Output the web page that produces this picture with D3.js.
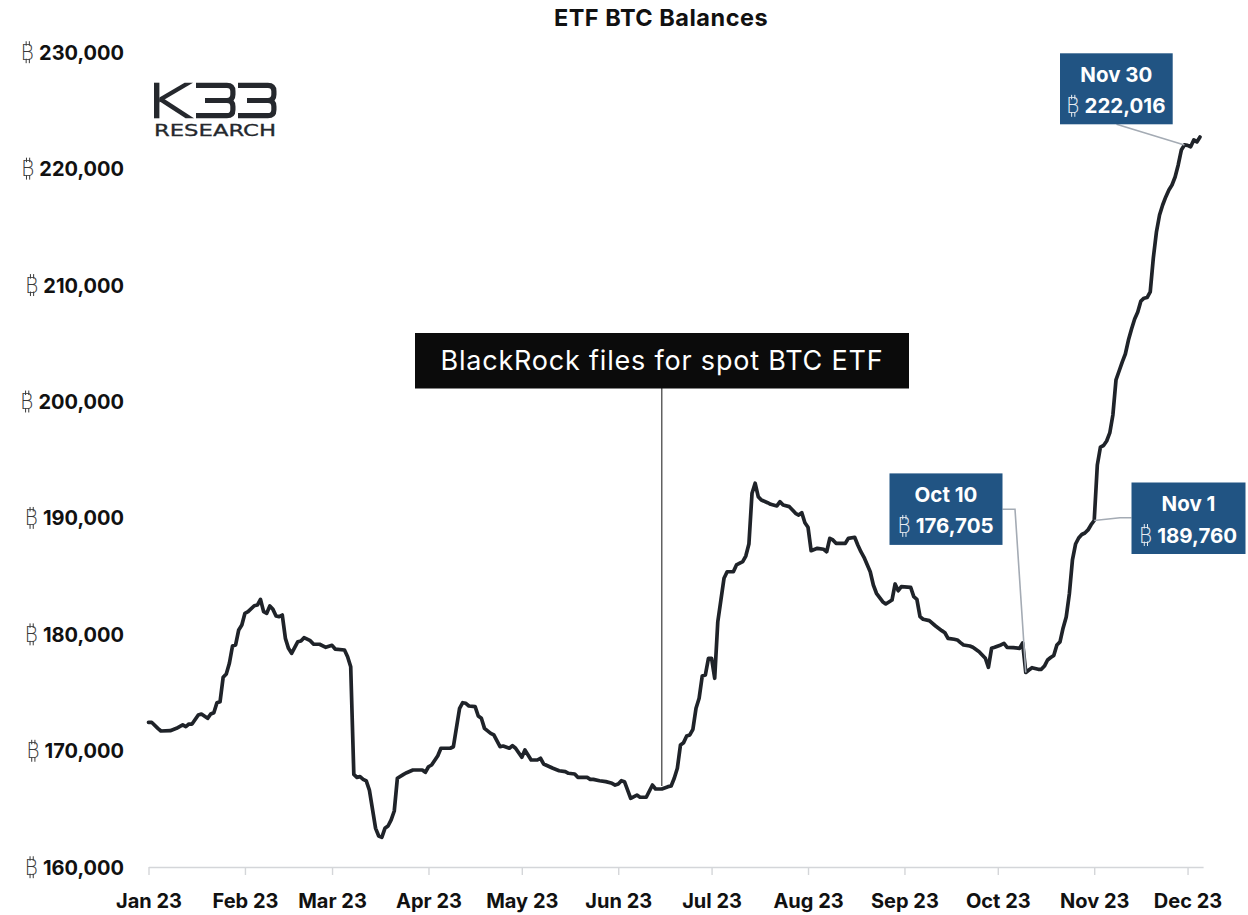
<!DOCTYPE html>
<html>
<head>
<meta charset="utf-8">
<script src="https://cdn.jsdelivr.net/npm/d3@7"></script>
<style>
  html, body { margin: 0; padding: 0; background: #ffffff; }
  svg { display: block; }
</style>
</head>
<body>
<svg id="chart" width="1248" height="915"></svg>
<script>
// ETF BTC balances, 2023 (BTC held)
const dates = [
  "2023-01-01","2023-01-02","2023-01-04","2023-01-05","2023-01-08","2023-01-10","2023-01-12","2023-01-13","2023-01-14","2023-01-15",
  "2023-01-17","2023-01-18","2023-01-20","2023-01-21","2023-01-22","2023-01-23","2023-01-24","2023-01-25","2023-01-26","2023-01-27",
  "2023-01-28","2023-01-29","2023-01-30","2023-01-31","2023-02-01","2023-02-02","2023-02-04","2023-02-05","2023-02-06","2023-02-07",
  "2023-02-08","2023-02-09","2023-02-10","2023-02-11","2023-02-12","2023-02-13","2023-02-14","2023-02-15","2023-02-16","2023-02-18",
  "2023-02-19","2023-02-20","2023-02-22","2023-02-23","2023-02-25","2023-02-27","2023-03-01","2023-03-02","2023-03-05","2023-03-06",
  "2023-03-07","2023-03-08","2023-03-09","2023-03-10","2023-03-11","2023-03-12","2023-03-13","2023-03-15","2023-03-16","2023-03-17",
  "2023-03-18","2023-03-19","2023-03-20","2023-03-21","2023-03-22","2023-03-24","2023-03-25","2023-03-27","2023-03-30","2023-03-31",
  "2023-04-01","2023-04-02","2023-04-04","2023-04-05","2023-04-08","2023-04-09","2023-04-11","2023-04-12","2023-04-13","2023-04-14",
  "2023-04-16","2023-04-17","2023-04-18","2023-04-19","2023-04-21","2023-04-22","2023-04-24","2023-04-25","2023-04-27","2023-04-28",
  "2023-04-29","2023-05-01","2023-05-02","2023-05-03","2023-05-04","2023-05-06","2023-05-07","2023-05-08","2023-05-11","2023-05-13",
  "2023-05-15","2023-05-16","2023-05-18","2023-05-19","2023-05-22","2023-05-23","2023-05-24","2023-05-26","2023-05-28","2023-05-30",
  "2023-05-31","2023-06-01","2023-06-02","2023-06-03","2023-06-05","2023-06-07","2023-06-08","2023-06-10","2023-06-12","2023-06-13",
  "2023-06-15","2023-06-17","2023-06-18","2023-06-19","2023-06-20","2023-06-21","2023-06-22","2023-06-23","2023-06-24","2023-06-25",
  "2023-06-26","2023-06-27","2023-06-28","2023-06-29","2023-06-30","2023-07-01","2023-07-02","2023-07-03","2023-07-04","2023-07-05",
  "2023-07-06","2023-07-08","2023-07-09","2023-07-11","2023-07-12","2023-07-13","2023-07-14","2023-07-15","2023-07-16","2023-07-17",
  "2023-07-19","2023-07-20","2023-07-22","2023-07-23","2023-07-24","2023-07-26","2023-07-28","2023-07-29","2023-07-30","2023-07-31",
  "2023-08-01","2023-08-02","2023-08-04","2023-08-06","2023-08-07","2023-08-08","2023-08-09","2023-08-10","2023-08-13","2023-08-14",
  "2023-08-16","2023-08-17","2023-08-18","2023-08-19","2023-08-21","2023-08-22","2023-08-23","2023-08-25","2023-08-26","2023-08-28",
  "2023-08-29","2023-08-30","2023-08-31","2023-09-03","2023-09-04","2023-09-05","2023-09-06","2023-09-07","2023-09-09","2023-09-11",
  "2023-09-13","2023-09-14","2023-09-15","2023-09-17","2023-09-18","2023-09-19","2023-09-20","2023-09-22","2023-09-23","2023-09-25",
  "2023-09-26","2023-09-27","2023-09-28","2023-09-29","2023-09-30","2023-10-02","2023-10-03","2023-10-04","2023-10-06","2023-10-08",
  "2023-10-09","2023-10-10","2023-10-11","2023-10-12","2023-10-13","2023-10-14","2023-10-15","2023-10-16","2023-10-17","2023-10-18",
  "2023-10-19","2023-10-20","2023-10-21","2023-10-22","2023-10-23","2023-10-24","2023-10-25","2023-10-26","2023-10-27","2023-10-28",
  "2023-10-29","2023-10-30","2023-10-31","2023-11-01","2023-11-02","2023-11-03","2023-11-04","2023-11-05","2023-11-06","2023-11-07",
  "2023-11-08","2023-11-09","2023-11-10","2023-11-11","2023-11-12","2023-11-13","2023-11-14","2023-11-15","2023-11-16","2023-11-17",
  "2023-11-18","2023-11-19","2023-11-20","2023-11-21","2023-11-22","2023-11-23","2023-11-24","2023-11-25","2023-11-26","2023-11-27",
  "2023-11-28","2023-11-29","2023-11-30","2023-12-01","2023-12-02","2023-12-03","2023-12-04","2023-12-05"
];

const balances = [
  172430,172430,171910,171680,171710,171910,172200,172050,172280,172280,
  173060,173140,172770,173140,173250,174110,174200,176290,176580,177500,
  178980,179070,180360,180790,181790,181930,182440,182500,182990,181930,
  181790,182420,182130,181560,181500,181640,179640,178780,178350,179350,
  179410,179700,179440,179150,179130,178870,179040,178720,178640,178060,
  177200,167960,167700,167760,167530,167390,166610,163320,162660,162550,
  163320,163520,164040,164810,167620,167960,168100,168330,168330,168130,
  168610,168760,169560,170200,170200,170330,173630,174110,174060,173830,
  173770,172970,172770,171910,171480,171340,170330,170390,170200,170420,
  170200,169420,170050,169620,169190,169190,169340,168850,168480,168270,
  168190,168050,167990,167700,167700,167530,167530,167410,167330,167190,
  167040,167130,167410,167330,165900,166180,165990,165990,167040,166700,
  166700,166900,166960,167620,168480,170480,170680,171250,171340,171830,
  173630,174490,176410,176490,177930,177930,176210,181070,182930,184800,
  185360,185360,185940,186220,186710,187740,192100,192960,191810,191520,
  191290,191150,191010,191380,191090,190950,190380,190230,190430,189570,
  189180,187170,187370,187290,187080,188230,188090,187800,187800,188230,
  188320,187660,187080,186600,185360,184220,183510,182790,182590,182930,
  184310,183730,184080,184020,183220,182990,181500,181280,181160,180700,
  180300,180120,179640,179560,179500,179270,179070,178980,178870,178490,
  178210,177930,177150,178780,178870,179070,179210,178870,178840,178780,
  179240,176705,176920,177120,177050,176980,176980,177260,177780,177990,
  178170,179070,179330,180530,181470,183450,186370,187740,188260,188560,
  188690,188950,189400,189760,194530,196070,196200,196590,197280,198820,
  201830,202600,203370,204060,205260,206210,207070,207670,208610,208850,
  208910,209390,212310,214540,216000,216860,217550,218150,218580,219260,
  220300,221580,222016,221980,221860,222450,222280,222700
];

const yTicks = [160000, 170000, 180000, 190000, 200000, 210000, 220000, 230000];
const monthTicks = ["2023-01-01","2023-02-01","2023-03-01","2023-04-01","2023-05-01","2023-06-01",
                    "2023-07-01","2023-08-01","2023-09-01","2023-10-01","2023-11-01","2023-12-01"];

const chartTitle = "ETF BTC Balances";
const eventDate = "2023-06-15";
const eventText = "BlackRock files for spot BTC ETF";
const calloutDates = ["2023-10-10", "2023-11-01", "2023-11-30"];

// ---------- setup ----------
const FONT = "Inter, 'Noto Sans', 'DejaVu Sans', sans-serif";
const INK = "#1f2329";
const BOX_BLUE = "#215483";
const CONNECTOR = "#a4abb4";
const fmtNum = d3.format(",");

const parse = d3.utcParse("%Y-%m-%d");
const series = dates.map((d, i) => ({ date: parse(d), value: balances[i] }));
const svg = d3.select("#chart");

const x = d3.scaleUtc()
  .domain([parse("2023-01-01"), parse("2023-12-06")])
  .range([148.5, 1203.1]);

const y = d3.scaleLinear()
  .domain([160000, 230000])
  .range([867, 52]);

// Thin bitcoin sign: a light "B" with two short bars through top and bottom.
// (xr = right edge of the sign, base = text baseline)
function drawBtcSign(parent, xr, base, size, color) {
  const g = parent.append("g");
  const w = size * 0.6;
  const cap = size * 0.73;
  g.append("text")
    .attr("x", xr).attr("y", base)
    .attr("text-anchor", "end")
    .attr("font-family", "'DejaVu Sans', sans-serif").attr("font-weight", 200)
    .attr("font-size", size).attr("fill", color)
    .text("B");
  [0.36, 0.62].forEach(f => {
    const lx = xr - w + w * f;
    g.append("line").attr("x1", lx).attr("x2", lx)
      .attr("y1", base - cap - size * 0.17).attr("y2", base - cap + 1)
      .attr("stroke", color).attr("stroke-width", 1);
    g.append("line").attr("x1", lx).attr("x2", lx)
      .attr("y1", base - 1).attr("y2", base + size * 0.17)
      .attr("stroke", color).attr("stroke-width", 1);
  });
  return w;
}

// "₿ value" label laid out from its right edge or centre
function btcValueLabel(parent, xPos, base, value, opts) {
  const t = parent.append("text")
    .attr("y", base)
    .attr("font-family", FONT).attr("font-weight", 700).attr("font-size", opts.size)
    .attr("fill", opts.color)
    .attr("text-anchor", "start")
    .text(fmtNum(value));
  const numW = t.node().getComputedTextLength();
  const signW = opts.signSize * 0.6;
  const gap = opts.gap;
  const total = signW + gap + numW;
  const left = opts.align === "middle" ? xPos - total / 2 : xPos - total;
  t.attr("x", left + signW + gap);
  drawBtcSign(parent, left + signW, base, opts.signSize, opts.signColor);
}

// ---------- title ----------
svg.append("text")
  .attr("x", 661).attr("y", 26)
  .attr("text-anchor", "middle")
  .attr("font-family", FONT).attr("font-weight", 700).attr("font-size", 23.5)
  .attr("letter-spacing", 0.5)
  .attr("fill", "#111")
  .text(chartTitle);

// ---------- y axis (labels only) ----------
const yAxis = svg.append("g")
  .call(d3.axisLeft(y).tickValues(yTicks).tickSize(0).tickFormat(() => ""));
yAxis.select(".domain").remove();
yAxis.selectAll(".tick text").remove();
yAxis.selectAll(".tick").each(function (d) {
  btcValueLabel(d3.select(this), 124, 7.2, d, {
    size: 20, color: "#111", gap: 5, align: "end",
    signSize: 20.5, signColor: "#3a3a3a"
  });
});

// ---------- x axis ----------
const xAxis = svg.append("g")
  .attr("transform", "translate(0,867)")
  .call(d3.axisBottom(x)
    .tickValues(monthTicks.map(parse))
    .tickFormat(d3.utcFormat("%b %y"))
    .tickSize(8).tickSizeOuter(0).tickPadding(19));
xAxis.select(".domain").attr("stroke", "#d4d6d9").attr("stroke-width", 1.6);
xAxis.selectAll(".tick line").attr("stroke", "#d4d6d9").attr("stroke-width", 1.4);
xAxis.selectAll("text")
  .attr("font-family", FONT).attr("font-weight", 700).attr("font-size", 20)
  .attr("fill", "#111");

// ---------- logo ----------
const logo = svg.append("g").attr("fill", "#25282d");
logo.append("rect").attr("x", 154).attr("y", 82.7).attr("width", 5.4).attr("height", 35.6);
logo.append("polygon").attr("points", "159.4,97.6 184.6,82.7 193,82.7 159.4,102.6");
logo.append("polygon").attr("points", "163.6,98.6 194,118.3 185.6,118.3 159.4,101.2 159.4,98.6");
function drawThree(x0, x1) {
  const r = x1 - 2.6;
  logo.append("path")
    .attr("fill", "none").attr("stroke", "#25282d").attr("stroke-width", 5.2)
    .attr("d",
      `M${x0},85.3 H${r - 6} Q${r},85.3 ${r},91.3 V94.5 Q${r},100.5 ${r - 6},100.5 H${x0 + 9} ` +
      `M${r - 6},100.5 Q${r},100.5 ${r},106.5 V109.7 Q${r},115.7 ${r - 6},115.7 H${x0}`);
}
drawThree(196, 235.5);
drawThree(238, 276.5);
logo.append("text")
  .attr("x", 154).attr("y", 135.5)
  .attr("font-family", "'DejaVu Sans', sans-serif").attr("font-size", 16)
  .attr("textLength", 122).attr("lengthAdjust", "spacingAndGlyphs")
  .attr("stroke", "#25282d").attr("stroke-width", 0.3)
  .text("RESEARCH");

// ---------- event marker ----------
const ev = series.find(p => +p.date === +parse(eventDate));
const evX = x(ev.date);
svg.append("line")
  .attr("x1", evX).attr("x2", evX)
  .attr("y1", 388).attr("y2", y(ev.value) - 3)
  .attr("stroke", "#3a3a3a").attr("stroke-width", 1.2);
svg.append("rect")
  .attr("x", 415).attr("y", 333).attr("width", 494).attr("height", 55.5)
  .attr("fill", "#0b0b0b");
svg.append("text")
  .attr("x", 662).attr("y", 369.5)
  .attr("text-anchor", "middle")
  .attr("font-family", FONT).attr("font-weight", 400).attr("font-size", 27)
  .attr("letter-spacing", 0.8)
  .attr("fill", "#ffffff")
  .text(eventText);

// ---------- balance line ----------
svg.append("path")
  .datum(series)
  .attr("fill", "none")
  .attr("stroke", INK)
  .attr("stroke-width", 3.7)
  .attr("stroke-linejoin", "round")
  .attr("stroke-linecap", "round")
  .attr("d", d3.line().x(d => x(d.date)).y(d => y(d.value)));

// ---------- callouts ----------
const boxes = [
  { x: 889.5, y: 473.4, w: 113, h: 71.5, elbow: (p) => [[1002.5, 509.3], [1015, 509.3], p] },
  { x: 1131.5, y: 482.5, w: 114, h: 71.5, elbow: (p) => [[1131.5, 517.7], [1120, 517.7], p] },
  { x: 1060, y: 53.3, w: 112.7, h: 71, elbow: (p) => [[1116.5, 124.3], p] }
];
const fmtDay = d3.utcFormat("%b %-d");
calloutDates.forEach((ds, i) => {
  const pt = series.find(p => +p.date === +parse(ds));
  const b = boxes[i];
  const target = [x(pt.date), y(pt.value)];
  svg.append("path")
    .attr("fill", "none").attr("stroke", CONNECTOR).attr("stroke-width", 1.6)
    .attr("d", d3.line()(b.elbow(target)));
  svg.append("rect")
    .attr("x", b.x).attr("y", b.y).attr("width", b.w).attr("height", b.h)
    .attr("fill", BOX_BLUE);
  const cx = b.x + b.w / 2;
  svg.append("text")
    .attr("x", cx).attr("y", b.y + 28.5)
    .attr("text-anchor", "middle")
    .attr("font-family", FONT).attr("font-weight", 700).attr("font-size", 20.5)
    .attr("fill", "#ffffff")
    .text(fmtDay(pt.date));
  btcValueLabel(svg, cx, b.y + 60, pt.value, {
    size: 20.5, color: "#ffffff", gap: 5, align: "middle",
    signSize: 20.5, signColor: "#e8edf3"
  });
});
</script>
</body>
</html>
